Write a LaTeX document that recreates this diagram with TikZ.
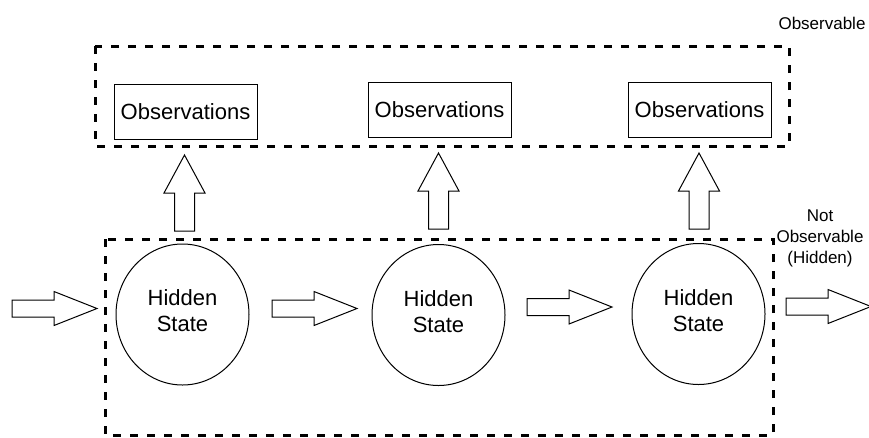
\documentclass[tikz,border=0pt]{standalone}
\usepackage{fontspec}
\setmainfont{Liberation Sans}
\usetikzlibrary{shapes.geometric}
\tikzset{
  dashbox/.style={draw=black, line width=3pt, dash pattern=on 8pt off 9pt},
  obsbox/.style={draw=black, line width=1pt, rectangle, minimum width=143pt, minimum height=55pt, inner sep=0pt, font=\fontsize{22}{25}\selectfont},
  hstate/.style={draw=black, line width=1pt, ellipse, minimum width=133pt, minimum height=141pt, inner sep=0pt, align=center, text depth=7pt, font=\fontsize{22}{26}\selectfont},
  blockarrow/.style={draw=black, line width=1pt, fill=white, line join=miter},
  lbl/.style={align=center, font=\fontsize{17}{21}\selectfont, inner sep=0pt},
  pics/rarrow/.style={code={
    \draw[blockarrow] (0,-8.5) -- (42,-8.5) -- (42,-17) -- (85,0) -- (42,17) -- (42,8.5) -- (0,8.5) -- cycle;}},
  pics/uarrow/.style={code={
    \draw[blockarrow] (-10,0) -- (-10,-38) -- (-20.5,-38) -- (0,-76) -- (20.5,-38) -- (10,-38) -- (10,0) -- cycle;}}
}
\begin{document}
\begin{tikzpicture}[x=1pt, y=-1pt]
\useasboundingbox (0,0) rectangle (869,437);
% dashed regions
\draw[dashbox] (95,46) rectangle (789,146);
\draw[dashbox] (105,239) rectangle (773,435);
% observations
\node[obsbox] (o1) at (185.5,111.5) {Observations};
\node[obsbox] (o2) at (439.5,110) {Observations};
\node[obsbox] (o3) at (699.5,109.5) {Observations};
% hidden states
\node[hstate] (h1) at (182.5,314.5) {Hidden\\State};
\node[hstate] (h2) at (438.5,315) {Hidden\\State};
\node[hstate] (h3) at (698.5,314) {Hidden\\State};
% up arrows
\pic at (184.5,231) {uarrow};
\pic at (438.5,229) {uarrow};
\pic at (699,229) {uarrow};
% right arrows
\pic at (12,308.5) {rarrow};
\pic at (272,308.5) {rarrow};
\pic at (527,307) {rarrow};
\begin{scope}
\clip (0,0) rectangle (869,437);
\pic at (786,306.5) {rarrow};
\end{scope}
% labels
\node[lbl] (lobs) at (822,23) {Observable};
\node[lbl] (lhid) at (820,238) {Not\\Observable\\(Hidden)};
\end{tikzpicture}
\end{document}
